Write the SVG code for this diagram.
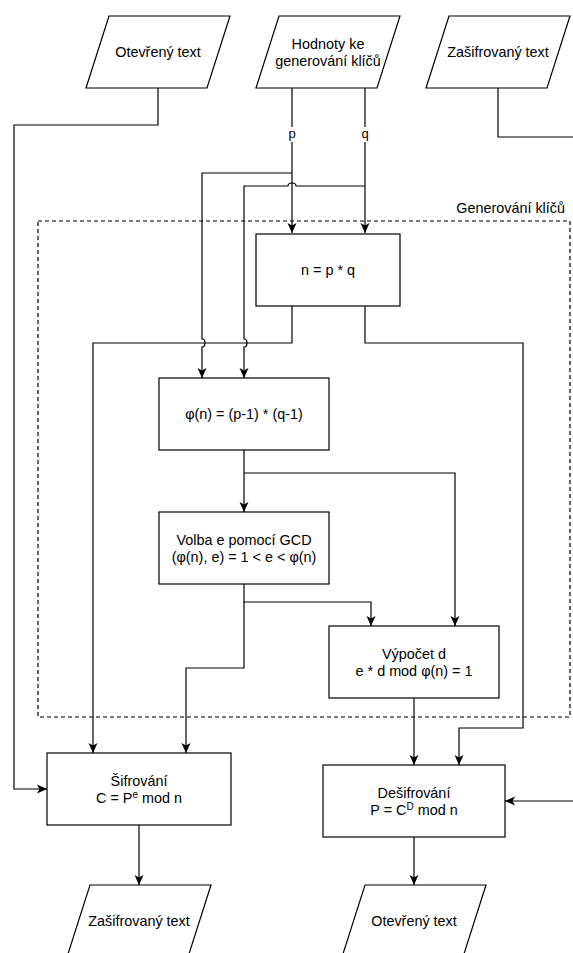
<svg xmlns="http://www.w3.org/2000/svg" width="573" height="953" viewBox="0 0 573 953">
  <style>
    .shape { fill: #ffffff; stroke: #000000; stroke-width: 1.2; }
    .group { fill: none; stroke: #000000; stroke-width: 1.2; stroke-dasharray: 4 3; }
    .edge { fill: none; stroke: #000000; stroke-width: 1.2; }
    .arrow { marker-end: url(#classic); }
    .label { font-family: "Liberation Sans", Arial, Helvetica, sans-serif; font-size: 14.4px; fill: #000000; text-anchor: middle; }
    .small { font-family: "Liberation Sans", Arial, Helvetica, sans-serif; font-size: 13px; fill: #000000; text-anchor: middle; }
  </style>
  <defs>
    <marker id="classic" viewBox="0 0 10 10" refX="10" refY="5" markerWidth="10" markerHeight="10" markerUnits="userSpaceOnUse" orient="auto">
      <path d="M0,0.5 L10,5 L0,9.5 L2.5,5 Z" fill="#000000"/>
    </marker>
  </defs>

  <rect width="573" height="953" fill="#ffffff"/>

  <!-- key generation container -->
  <g id="keygen-group">
    <rect class="group" x="38" y="221" width="532" height="496"/>
    <text class="label" x="565" y="213" style="text-anchor:end">Generování klíčů</text>
  </g>

  <!-- connectors -->
  <g id="connectors">
    <path class="edge arrow" d="M158,88 V125 H14 V789 H47"/>
    <path class="edge" d="M498,88 V137 H573"/>
    <path class="edge arrow" d="M573,801 H505"/>
    <path class="edge arrow" d="M292,88 V233"/>
    <path class="edge arrow" d="M365,88 V233"/>
    <path class="edge arrow" d="M292,173 H202 V339 A3,4 0 0 1 202,347 V378"/>
    <path class="edge arrow" d="M365,186 H296 A4,3 0 0 0 288,186 H244 V339 A3,4 0 0 1 244,347 V378"/>
    <path class="edge arrow" d="M292,306 V343 H93 V753"/>
    <path class="edge arrow" d="M365,306 V343 H523 V728 H459 V765"/>
    <path class="edge arrow" d="M244,450 V512"/>
    <path class="edge arrow" d="M244,473 H455 V626"/>
    <path class="edge arrow" d="M244,584 V602 H371 V626"/>
    <path class="edge arrow" d="M244,602 V668 H186 V753"/>
    <path class="edge arrow" d="M414,698 V765"/>
    <path class="edge arrow" d="M139,825 V885"/>
    <path class="edge arrow" d="M414,837 V885"/>
    <!-- edge labels -->
    <rect x="286" y="127" width="12" height="15" fill="#ffffff"/>
    <text class="small" x="292" y="138">p</text>
    <rect x="359" y="127" width="12" height="15" fill="#ffffff"/>
    <text class="small" x="365" y="138">q</text>
  </g>

  <g id="input-plaintext">
    <polygon class="shape" points="109,16 230,16 207,88 86,88"/>
    <text class="label" x="158" y="57">Otevřený text</text>
  </g>

  <g id="input-key-values">
    <polygon class="shape" points="279,16 400,16 377,88 256,88"/>
    <text class="label" x="328" y="48.5">Hodnoty ke</text>
    <text class="label" x="328" y="66">generování klíčů</text>
  </g>

  <g id="input-ciphertext">
    <polygon class="shape" points="449,16 570,16 547,88 426,88"/>
    <text class="label" x="498" y="57">Zašifrovaný text</text>
  </g>

  <g id="modulus">
    <rect class="shape" x="256" y="234" width="144" height="72"/>
    <text class="label" x="328" y="275">n = p * q</text>
  </g>

  <g id="totient">
    <rect class="shape" x="159" y="378" width="170" height="72"/>
    <text class="label" x="244" y="419">φ(n) = (p-1) * (q-1)</text>
  </g>

  <g id="choose-e">
    <rect class="shape" x="159" y="512" width="170" height="72"/>
    <text class="label" x="244" y="544.5">Volba e pomocí GCD</text>
    <text class="label" x="244" y="562">(φ(n), e) = 1 &lt; e &lt; φ(n)</text>
  </g>

  <g id="compute-d">
    <rect class="shape" x="329" y="626" width="170" height="72"/>
    <text class="label" x="414" y="658.5">Výpočet d</text>
    <text class="label" x="414" y="676">e * d mod φ(n) = 1</text>
  </g>

  <g id="encryption">
    <rect class="shape" x="47" y="753" width="184" height="72"/>
    <text class="label" x="139" y="785.5">Šifrování</text>
    <text class="label" x="139" y="803"><tspan>C = P</tspan><tspan dy="-5" font-size="10">e</tspan><tspan dy="5"> mod n</tspan></text>
  </g>

  <g id="decryption">
    <rect class="shape" x="323" y="765" width="182" height="72"/>
    <text class="label" x="414" y="797.5">Dešifrování</text>
    <text class="label" x="414" y="815"><tspan>P = C</tspan><tspan dy="-5" font-size="10">D</tspan><tspan dy="5"> mod n</tspan></text>
  </g>

  <g id="output-ciphertext">
    <polygon class="shape" points="90,885 211,885 188,957 67,957"/>
    <text class="label" x="139" y="926">Zašifrovaný text</text>
  </g>

  <g id="output-plaintext">
    <polygon class="shape" points="365,885 486,885 463,957 342,957"/>
    <text class="label" x="414" y="926">Otevřený text</text>
  </g>
</svg>
